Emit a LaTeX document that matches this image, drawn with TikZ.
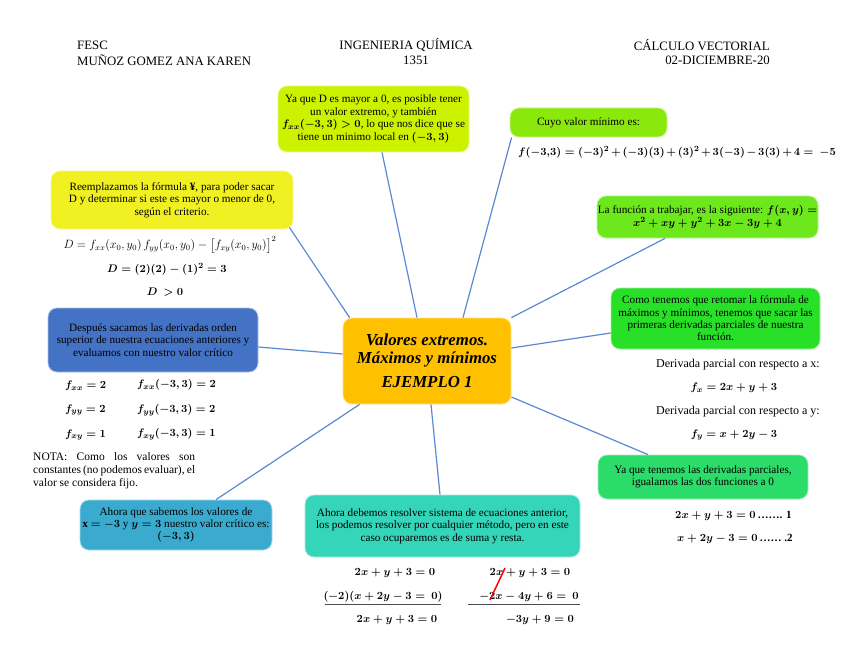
\documentclass[tikz,border=0pt]{standalone}
\usepackage[no-math]{fontspec}
\setmainfont{Liberation Serif}
\usepackage{amsmath}
\usetikzlibrary{calc}
\definecolor{cCenter}{HTML}{FFC000}
\definecolor{cTop}{HTML}{CCF200}
\definecolor{cCuyo}{HTML}{8AE80A}
\definecolor{cYellow}{HTML}{F0F023}
\definecolor{cFunc}{HTML}{6CE81C}
\definecolor{cComo}{HTML}{28E028}
\definecolor{cYaque}{HTML}{2CDC6A}
\definecolor{cTeal}{HTML}{34D5B9}
\definecolor{cBlue}{HTML}{4472C4}
\definecolor{cCyan}{HTML}{3AABCF}
\definecolor{cLine}{HTML}{5B88D4}
\begin{document}
\begin{tikzpicture}[x=1pt,y=-1pt,
  box/.style={rounded corners=9pt, draw=white!55!#1, fill=#1, line width=0.8pt, align=center, inner sep=0pt,
    font=\fontsize{11.2}{12.4}\selectfont},
  link/.style={draw=cLine, line width=1.2pt},
  hdr/.style={font=\fontsize{12.8}{14}\selectfont, inner sep=0pt},
  txt/.style={font=\fontsize{11.5}{13.3}\selectfont, inner sep=0pt},
  eq/.style={font=\fontsize{11}{13}\selectfont\boldmath, inner sep=0pt},
  eqn/.style={font=\fontsize{11}{13}\selectfont, inner sep=0pt}]
\useasboundingbox (0,0) rectangle (848,655);

% header
\node[hdr, anchor=west] (h1) at (77,45) {FESC};
\node[hdr, anchor=west] (h2) at (77,60) {MUÑOZ GOMEZ ANA KAREN};
\node[hdr] (h3) at (406,45) {INGENIERIA QUÍMICA};
\node[hdr] (h4) at (416,60) {1351};
\node[hdr, anchor=east] (h5) at (770,45) {CÁLCULO VECTORIAL};
\node[hdr, anchor=east] (h6) at (770,60) {02-DICIEMBRE-20};

% boxes
\node[box=cCenter, minimum width=168pt, minimum height=86pt,
  font=\fontsize{16.8}{17.5}\selectfont\bfseries\itshape] (center) at (427,361)
  {Valores extremos.\\ Máximos y mínimos\\[7pt] EJEMPLO 1};

\node[box=cTop, minimum width=191pt, minimum height=66pt] (top) at (373.5,119)
  {Ya que D es mayor a 0, es posible tener\\ un valor extremo, y también\\
   {\boldmath$f_{xx}(-3,3)>0$}, lo que nos dice que se\\ tiene un minimo local en {\boldmath$(-3,3)$}};

\node[box=cCuyo, minimum width=157pt, minimum height=29pt] (cuyo) at (588.5,122.5)
  {Cuyo valor mínimo es:};

\node[box=cYellow, minimum width=242pt, minimum height=58pt] (yellow) at (172,200)
  {Reemplazamos la fórmula \textbf{¥}, para poder sacar\\ D y determinar si este es mayor o menor de 0,\\ según el criterio.};

\node[box=cFunc, minimum width=221pt, minimum height=42pt] (func) at (707.5,217)
  {La función a trabajar, es la siguiente: {\boldmath$f(x,y)=$}\\ {\boldmath$x^2+xy+y^2+3x-3y+4$}};

\node[box=cComo, minimum width=209pt, minimum height=61pt] (como) at (715.5,318.5)
  {Como tenemos que retomar la fórmula de\\ máximos y mínimos, tenemos que sacar las\\ primeras derivadas parciales de nuestra\\ función.};

\node[box=cYaque, minimum width=210pt, minimum height=44pt] (yaque) at (703,477)
  {Ya que tenemos las derivadas parciales,\\ igualamos las dos funciones a 0};

\node[box=cTeal, minimum width=275pt, minimum height=62pt] (teal) at (442.5,526)
  {Ahora debemos resolver sistema de ecuaciones anterior,\\ los podemos resolver por cualquier método, pero en este\\ caso ocuparemos es de suma y resta.};

\node[box=cBlue, minimum width=210pt, minimum height=64pt] (blue) at (153,340)
  {Después sacamos las derivadas orden\\ superior de nuestra ecuaciones anteriores y\\ evaluamos con nuestro valor crítico};

\node[box=cCyan, minimum width=192pt, minimum height=50pt] (cyan) at (176,525)
  {Ahora que sabemos los valores de\\ \textbf{x} {\boldmath$=-3$} y {\boldmath$y=3$} nuestro valor crítico es:\\ {\boldmath$(-3,3)$}};

% connectors
\draw[link] ([xshift=7pt]center.north west) -- ([xshift=-4pt,yshift=2pt]yellow.south east);
\draw[link] ([xshift=-10pt]center.north) -- ([xshift=8.5pt]top.south);
\draw[link] ([xshift=36pt]center.north) -- ([xshift=2pt]cuyo.south west);
\draw[link] (center.north east) -- ([xshift=-42.5pt]func.south);
\draw[link] ([yshift=13pt]center.east) -- ([yshift=-14.5pt]como.west);
\draw[link] ([yshift=-36pt]center.east) -- ([xshift=-55pt]yaque.north);
\draw[link] ([xshift=4pt]center.south) -- ([xshift=-2.5pt]teal.north);
\draw[link] ([xshift=17pt]center.south west) -- ([xshift=40pt]cyan.north);
\draw[link] ([yshift=7pt]center.west) -- ([yshift=-7pt]blue.east);

% formulas top right
\node[eq, anchor=west] (fmin) at (518,152)
  {\medmuskip=2.5mu $f(-3{,}3) = (-3)^2+(-3)(3)+(3)^2+3(-3)-3(3)+4 = \ -5$};

% D formulas
\node[eqn, font=\fontsize{11.8}{13}\selectfont] (d1) at (170,245) {$D = f_{xx}(x_0,y_0)\,f_{yy}(x_0,y_0)-\bigl[f_{xy}(x_0,y_0)\bigr]^2$};
\node[eq] (d2) at (167,269) {$D = (2)(2)-(1)^2 = 3$};
\node[eq] (d3) at (165,292) {$D\ > 0$};

% second derivatives
\node[eq, anchor=west] (a1) at (65,386) {$f_{xx}=2$};
\node[eq, anchor=west] (a2) at (65,410) {$f_{yy}=2$};
\node[eq, anchor=west] (a3) at (65,435) {$f_{xy}=1$};
\node[eq, anchor=west] (b1) at (137,385) {$f_{xx}(-3,3)=2$};
\node[eq, anchor=west] (b2) at (137,410) {$f_{yy}(-3,3)=2$};
\node[eq, anchor=west] (b3) at (137,434) {$f_{xy}(-3,3)=1$};

\node[txt, anchor=north west, text width=162pt, align=justify] (nota) at (33,452)
  {NOTA: Como los valores son\linebreak constantes (no podemos evaluar), el\linebreak valor se considera fijo.};

% partial derivatives
\node[txt, font=\fontsize{12}{14}\selectfont] (p1) at (738,365) {Derivada parcial con respecto a x:};
\node[eq] (p2) at (734,388) {$f_x = 2x+y+3$};
\node[txt, font=\fontsize{12}{14}\selectfont] (p3) at (738,412) {Derivada parcial con respecto a y:};
\node[eq] (p4) at (734,435) {$f_y = x+2y-3$};

\node[eq, anchor=west] (e1) at (675,516) {$2x+y+3=0$\,\textbf{……. 1}};
\node[eq, anchor=west] (e2) at (677,539) {$x+2y-3=0$\,\textbf{…… .2}};

% elimination
\node[eq] (l1) at (395,573) {$2x+y+3=0$};
\node[eq] (l2) at (383,597) {$(-2)(x+2y-3=\ 0)$};
\node[eq] (l3) at (397,620) {$2x+y+3=0$};
\node[eq] (r1) at (530,573) {$2x+y+3=0$};
\node[eq] (r2) at (529,597) {$-2x-4y+6=\ 0$};
\node[eq] (r3) at (540,620) {$-3y+9=0$};
\draw[line width=0.8pt, black!70] (325,604) -- (441,604);
\draw[line width=0.8pt, black!70] (468,604) -- (580,604);
\draw[red, line width=1.5pt] (505,568) -- (490,600);
\end{tikzpicture}
\end{document}
